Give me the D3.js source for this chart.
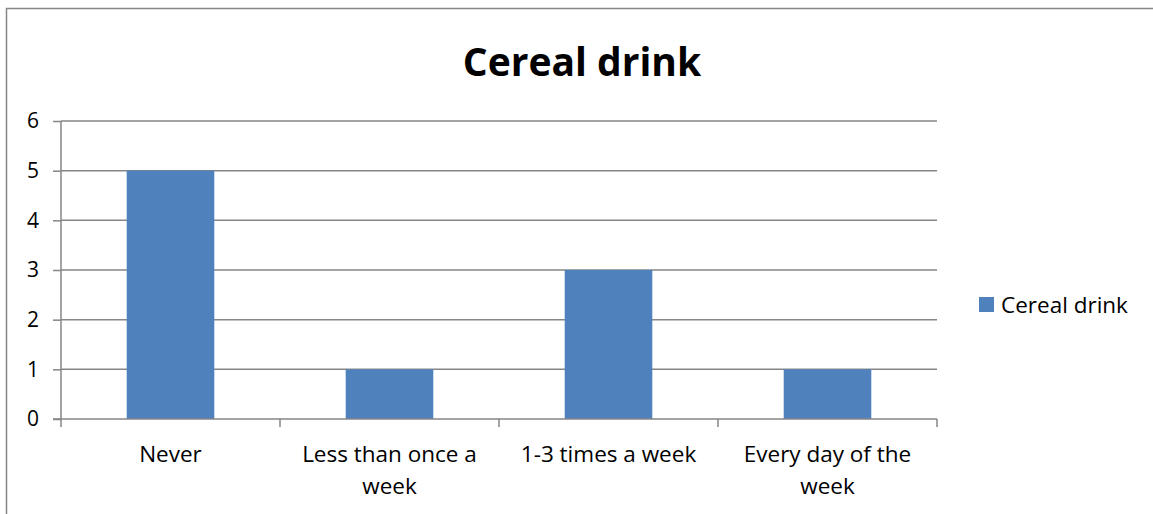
<!DOCTYPE html>
<html>
<head>
<meta charset="utf-8">
<script src="https://cdn.jsdelivr.net/npm/d3@7"></script>
<style>
  body { margin: 0; background: #fff; }
  text { font-family: "Open Sans", "Noto Sans", sans-serif; fill: #000; }
</style>
</head>
<body>
<svg id="chart" width="1153" height="514"></svg>
<script>
const categories = [["Never"], ["Less than once a", "week"], ["1-3 times a week"], ["Every day of the", "week"]];
const values = [5, 1, 3, 1];
const yTicks = [0, 1, 2, 3, 4, 5, 6];
const seriesName = "Cereal drink";
const title = "Cereal drink";

const svg = d3.select('#chart');
const gridColor = '#868686';
const barColor = '#4F81BD';

// chart border
svg.append('rect')
  .attr('x', 6.5).attr('y', 8.5)
  .attr('width', 1160).attr('height', 520)
  .attr('fill', 'none')
  .attr('stroke', gridColor)
  .attr('stroke-width', 1.5);

const plot = { left: 61, right: 937, top: 121, bottom: 419 };

const x = d3.scaleBand()
  .domain(d3.range(categories.length))
  .range([plot.left, plot.right])
  .paddingInner(0.6)
  .paddingOuter(0.3);

const y = d3.scaleLinear()
  .domain([0, 6])
  .range([plot.bottom, plot.top]);

// gridlines
svg.append('g')
  .selectAll('line')
  .data(yTicks.filter(d => d > 0))
  .enter().append('line')
  .attr('x1', plot.left).attr('x2', plot.right)
  .attr('y1', d => y(d)).attr('y2', d => y(d))
  .attr('stroke', gridColor).attr('stroke-width', 1.5);

// bars
svg.append('g')
  .selectAll('rect')
  .data(values)
  .enter().append('rect')
  .attr('x', (d, i) => x(i))
  .attr('width', x.bandwidth())
  .attr('y', d => y(d))
  .attr('height', d => y(0) - y(d))
  .attr('fill', barColor);

// y axis
const yAxis = svg.append('g')
  .attr('transform', `translate(${plot.left},0)`)
  .call(d3.axisLeft(y).tickValues(yTicks).tickSize(8).tickPadding(14).tickFormat(d3.format('d')));
yAxis.selectAll('line, path').attr('stroke', gridColor).attr('stroke-width', 1.5);
yAxis.select('.domain').attr('d', `M0,${plot.top}V${plot.bottom}`);
yAxis.selectAll('text').style('font-size', '21px').attr('fill', '#000');

// x axis: line and boundary ticks
const bounds = d3.range(categories.length + 1).map(i => plot.left + (plot.right - plot.left) * i / categories.length);
const xg = svg.append('g');
xg.append('line')
  .attr('x1', plot.left - 8).attr('x2', plot.right)
  .attr('y1', plot.bottom).attr('y2', plot.bottom)
  .attr('stroke', gridColor).attr('stroke-width', 1.5);
xg.selectAll('.tick')
  .data(bounds)
  .enter().append('line')
  .attr('x1', d => d).attr('x2', d => d)
  .attr('y1', plot.bottom).attr('y2', plot.bottom + 8)
  .attr('stroke', gridColor).attr('stroke-width', 1.5);

// x labels
xg.selectAll('text.cat')
  .data(categories)
  .enter().append('text')
  .attr('class', 'cat')
  .attr('text-anchor', 'middle')
  .style('font-size', '22.5px')
  .each(function (lines, i) {
    const cx = x(i) + x.bandwidth() / 2;
    d3.select(this).selectAll('tspan')
      .data(lines)
      .enter().append('tspan')
      .attr('x', cx)
      .attr('y', (d, j) => 462 + j * 32)
      .text(d => d);
  });

// title
svg.append('text')
  .attr('x', 582).attr('y', 76)
  .attr('text-anchor', 'middle')
  .style('font-size', '39px')
  .style('font-weight', 'bold')
  .text(title);

// legend
const lg = svg.append('g');
lg.append('rect')
  .attr('x', 979).attr('y', 297)
  .attr('width', 15).attr('height', 15)
  .attr('fill', barColor);
lg.append('text')
  .attr('x', 1001).attr('y', 313)
  .style('font-size', '22.5px')
  .text(seriesName);
</script>
</body>
</html>
